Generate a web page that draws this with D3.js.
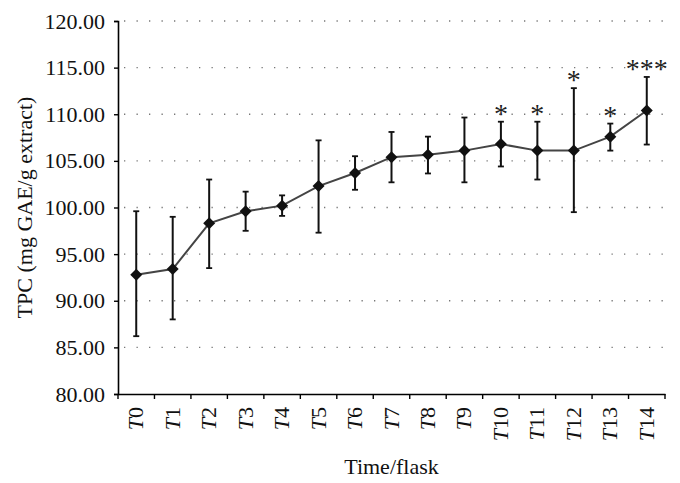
<!DOCTYPE html>
<html>
<head>
<meta charset="utf-8">
<script src="https://cdn.jsdelivr.net/npm/d3@7"></script>
<style>
  body { margin: 0; background: #fff; }
  text { font-family: "Liberation Serif", "DejaVu Serif", serif; }
</style>
</head>
<body>
<div id="chart"></div>
<script>
// data
var labels = ["0","1","2","3","4","5","6","7","8","9","10","11","12","13","14"];
var means  = [92.8, 93.4, 98.3, 99.6, 100.2, 102.3, 103.7, 105.4, 105.65, 106.1, 106.8, 106.1, 106.1, 107.6, 110.4];
var upper  = [99.6, 99.0, 103.0, 101.7, 101.3, 107.2, 105.5, 108.1, 107.6, 109.65, 109.2, 109.2, 112.8, 109.0, 114.0];
var lower  = [86.2, 88.0, 93.5, 97.5, 99.1, 97.3, 101.9, 102.7, 103.65, 102.7, 104.4, 103.0, 99.5, 106.1, 106.75];
var stars  = ["", "", "", "", "", "", "", "", "", "", "*", "*", "*", "*", "***"];
var yTicks = [80, 85, 90, 95, 100, 105, 110, 115, 120];

var margin = {top: 21, right: 15, bottom: 89, left: 118},
    width = 680 - margin.left - margin.right,
    height = 483 - margin.top - margin.bottom;

var data = labels.map(function(l, i) {
  return {label: l, mean: means[i], hi: upper[i], lo: lower[i], star: stars[i]};
});

var svg = d3.select("#chart")
  .append("svg")
    .attr("width", 680)
    .attr("height", 483)
  .append("g")
    .attr("transform", "translate(" + margin.left + "," + margin.top + ")");

var x = d3.scaleBand()
  .domain(labels)
  .range([0, width]);

var y = d3.scaleLinear()
  .domain([80, 120])
  .range([height, 0]);

// dotted grid
svg.selectAll(".grid")
  .data(yTicks.filter(function(d){ return d > 80; }))
  .enter()
  .append("line")
    .attr("x1", 6)
    .attr("x2", width)
    .attr("y1", function(d){ return y(d); })
    .attr("y2", function(d){ return y(d); })
    .attr("stroke", "#777")
    .attr("stroke-width", 1.3)
    .attr("stroke-dasharray", "1.3,11.2");

// Y axis
var yAxis = svg.append("g")
  .call(d3.axisLeft(y).tickValues(yTicks).tickSize(4).tickPadding(9)
    .tickFormat(function(d){ return d.toFixed(2); }));
yAxis.select(".domain").attr("stroke", "#000").attr("stroke-width", 1.6);
yAxis.selectAll(".tick line").attr("stroke", "#000").attr("stroke-width", 1.4);
yAxis.selectAll("text")
  .style("font-family", "Liberation Serif")
  .style("font-size", "22px")
  .attr("fill", "#111");

// X axis
var xAxis = svg.append("g")
  .attr("transform", "translate(0," + height + ")")
  .call(d3.axisBottom(x).tickSize(0).tickFormat(""));
xAxis.select(".domain").attr("stroke", "#000").attr("stroke-width", 1.6);

svg.append("g")
  .selectAll("line")
  .data(d3.range(labels.length + 1))
  .enter()
  .append("line")
    .attr("x1", function(i){ return i * x.step(); })
    .attr("x2", function(i){ return i * x.step(); })
    .attr("y1", height)
    .attr("y2", height + 5)
    .attr("stroke", "#000")
    .attr("stroke-width", 1.4);

var xl = svg.append("g")
  .selectAll("text")
  .data(labels)
  .enter()
  .append("text")
    .attr("transform", function(d){
      return "translate(" + (x(d) + x.bandwidth() / 2 + 7) + "," + (height + 13) + ") rotate(-90)";
    })
    .attr("text-anchor", "end")
    .style("font-size", "22px")
    .attr("fill", "#111");
xl.append("tspan").style("font-style", "italic").text("T");
xl.append("tspan").text(function(d){ return d; });

// axis titles
svg.append("text")
  .attr("text-anchor", "middle")
  .attr("x", width / 2)
  .attr("y", height + 80)
  .style("font-size", "22px")
  .attr("fill", "#111")
  .text("Time/flask");

svg.append("text")
  .attr("text-anchor", "middle")
  .attr("transform", "translate(-86," + (height / 2) + ") rotate(-90)")
  .style("font-size", "22px")
  .attr("fill", "#111")
  .text("TPC (mg GAE/g extract)");

function cx(d) { return x(d.label) + x.bandwidth() / 2; }

// error bars
var eb = svg.append("g").selectAll("g")
  .data(data)
  .enter()
  .append("g");
eb.append("line")
  .attr("x1", cx).attr("x2", cx)
  .attr("y1", function(d){ return y(d.hi); })
  .attr("y2", function(d){ return y(d.lo); })
  .attr("stroke", "#111").attr("stroke-width", 2);
eb.append("line")
  .attr("x1", function(d){ return cx(d) - 3; }).attr("x2", function(d){ return cx(d) + 3; })
  .attr("y1", function(d){ return y(d.hi); }).attr("y2", function(d){ return y(d.hi); })
  .attr("stroke", "#111").attr("stroke-width", 1.8);
eb.append("line")
  .attr("x1", function(d){ return cx(d) - 3; }).attr("x2", function(d){ return cx(d) + 3; })
  .attr("y1", function(d){ return y(d.lo); }).attr("y2", function(d){ return y(d.lo); })
  .attr("stroke", "#111").attr("stroke-width", 1.8);

// mean line
svg.append("path")
  .datum(data)
  .attr("d", d3.line()
    .x(cx)
    .y(function(d){ return y(d.mean); }))
  .attr("fill", "none")
  .attr("stroke", "#444")
  .attr("stroke-width", 2);

// diamond markers
svg.append("g").selectAll("path")
  .data(data)
  .enter()
  .append("path")
    .attr("transform", function(d){ return "translate(" + cx(d) + "," + y(d.mean) + ")"; })
    .attr("d", "M0,-6L6,0L0,6L-6,0Z")
    .attr("fill", "#111");

// significance stars
svg.append("g").selectAll("text")
  .data(data.filter(function(d){ return d.star; }))
  .enter()
  .append("text")
    .attr("x", cx)
    .attr("y", function(d){ return y(d.hi) + 1; })
    .attr("text-anchor", "middle")
    .style("font-size", "28px")
    .attr("fill", "#222")
    .text(function(d){ return d.star; });
</script>
</body>
</html>
